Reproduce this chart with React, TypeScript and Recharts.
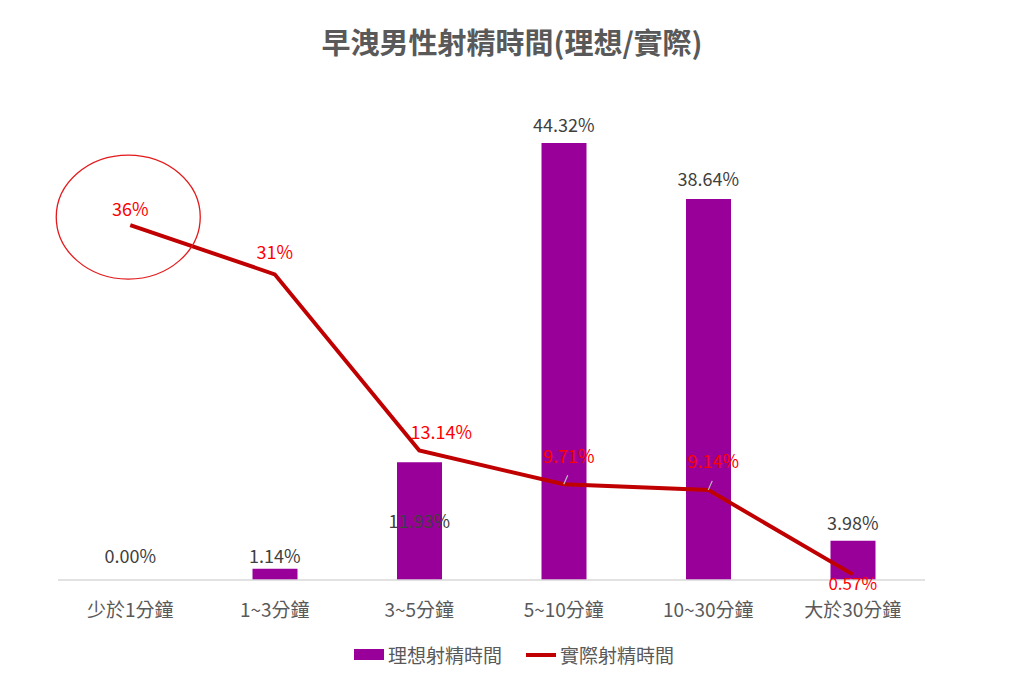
import React from 'react';
import { ComposedChart, Bar, Line, XAxis, YAxis } from 'recharts';

const categories = ['少於1分鐘', '1~3分鐘', '3~5分鐘', '5~10分鐘', '10~30分鐘', '大於30分鐘'];
const idealValues = [0.0, 1.14, 11.93, 44.32, 38.64, 3.98];
const actualValues = [36, 31, 13.14, 9.71, 9.14, 0.57];
const actualLabels = ['36%', '31%', '13.14%', '9.71%', '9.14%', '0.57%'];

const data = categories.map((name, i) => ({
    name,
    ideal: idealValues[i],
    actual: actualValues[i],
}));

// label nudges, copied by eye from the source
const barLabelDy = [-17, -6, 66, -11, -13, -11];
const lineLabelDx = [0, 0, 22, 5, 5, 0];
const lineLabelDy = [-9, -15, -11, -21, -22, 16];

const FONT = '"Noto Sans CJK TC", "Noto Sans", sans-serif';
const PURPLE = '#990099';
const DARKRED = '#C00000';

// drawn from an invisible line on the bar values, so the 0.00% bar still gets its label
const BarLabel = (props: any) => {
    const { x, y, index } = props;
    return (
        <text x={x} y={y + barLabelDy[index]} textAnchor="middle" fill="#404040" fontSize={18} fontFamily={FONT}>
            {idealValues[index].toFixed(2)}%
        </text>
    );
};

const LineLabel = (props: any) => {
    const { x, y, index } = props;
    const tx = x + lineLabelDx[index];
    const ty = y + lineLabelDy[index];
    return (
        <g>
            {(index === 3 || index === 4) && (
                <line x1={x + 4} y1={y - 9} x2={x} y2={y} stroke="#BFBFBF" strokeWidth={1.2} />
            )}
            <text x={tx} y={ty} textAnchor="middle" fill="#FF0000" fontSize={index === 5 ? 17 : 18} fontFamily={FONT}>
                {actualLabels[index]}
            </text>
        </g>
    );
};

const CircleDot = (props: any) => {
    const { cx, cy, index } = props;
    if (index !== 0) return <g key={index} />;
    return <ellipse key={index} cx={cx - 2} cy={cy - 8} rx={72} ry={62} fill="none" stroke="#E31A1C" strokeWidth={1.3} />;
};

export default function App() {
    return (
        <div style={{ position: 'relative', width: 1024, height: 682, background: '#fff', fontFamily: FONT }}>
            <style>{'body{margin:0}'}</style>
            <div style={{ position: 'absolute', top: 20, left: 0, width: 1024, textAlign: 'center', fontSize: 29, fontWeight: 700, color: '#595959' }}>
                早洩男性射精時間(理想/實際)
            </div>
            <ComposedChart width={1024} height={682} data={data} margin={{ top: 87, right: 99, left: 58, bottom: 62 }}>
                <XAxis
                    dataKey="name"
                    height={40}
                    tickLine={false}
                    tickMargin={18}
                    axisLine={{ stroke: '#D9D9D9', strokeWidth: 1.5 }}
                    tick={{ fill: '#595959', fontSize: 19, fontFamily: FONT }}
                    interval={0}
                />
                <YAxis hide domain={[0, 50]} />
                <Bar dataKey="ideal" fill={PURPLE} barSize={45} isAnimationActive={false} />
                <Line
                    dataKey="ideal"
                    type="linear"
                    stroke="none"
                    dot={false}
                    activeDot={false}
                    legendType="none"
                    isAnimationActive={false}
                    label={<BarLabel />}
                />
                <Line
                    dataKey="actual"
                    type="linear"
                    stroke={DARKRED}
                    strokeWidth={4}
                    dot={<CircleDot />}
                    activeDot={false}
                    isAnimationActive={false}
                    label={<LineLabel />}
                />
            </ComposedChart>
            <div style={{ position: 'absolute', top: 641, left: 354, display: 'flex', alignItems: 'center', fontSize: 19, color: '#595959' }}>
                <span style={{ display: 'inline-block', width: 30, height: 11, background: PURPLE, marginRight: 4 }} />
                <span>理想射精時間</span>
                <span style={{ display: 'inline-block', width: 30, height: 4, background: DARKRED, marginLeft: 24, marginRight: 4 }} />
                <span>實際射精時間</span>
            </div>
        </div>
    );
}
